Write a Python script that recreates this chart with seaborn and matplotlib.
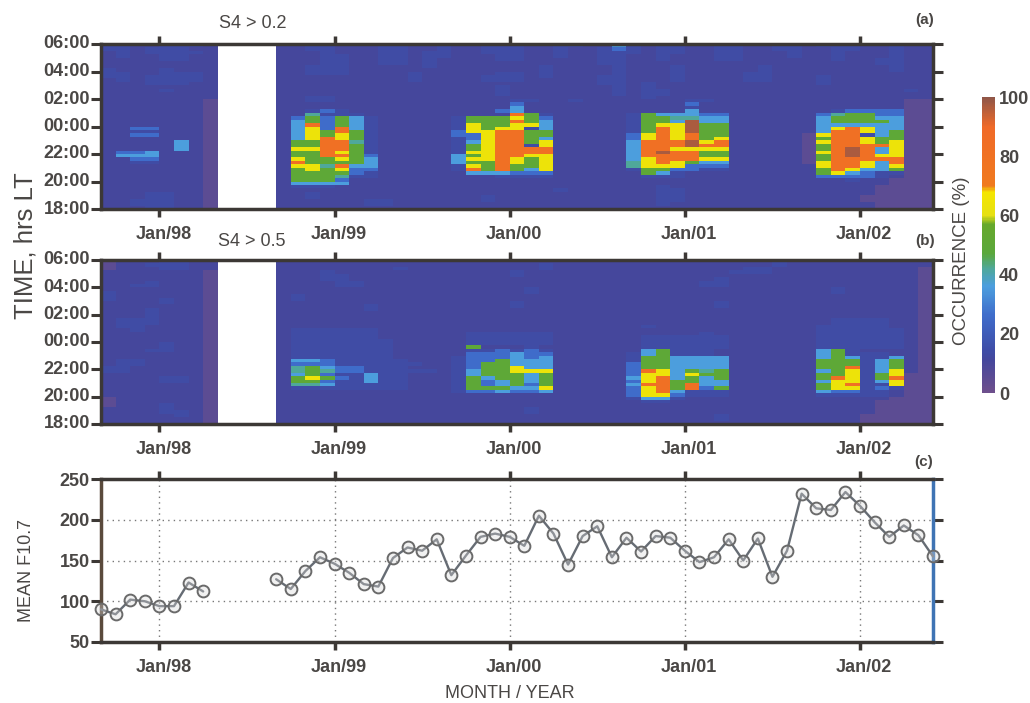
import numpy as np
import pandas as pd
import seaborn as sns
import matplotlib.pyplot as plt
from matplotlib.colors import LinearSegmentedColormap
from matplotlib.transforms import ScaledTranslation

# one char per month, one row per 15 min from 06:00 down to 18:00
# groups: Sep97-Apr98 | data gap | May98-Apr99 | May99-Apr00 | May00-Apr01 | May01-Jan02
s4_02_rows = [
    "22112221 .... 112211122112 112221122114 212211221122 122211211",
    "22122211 .... 112211122112 112221121123 212211221122 112211211",
    "12122221 .... 111211122122 112221121122 212211221112 112111211",
    "12112211 .... 111221122122 111221121122 112111221112 112111211",
    "11112211 .... 111221122121 111221111122 112111221111 112112211",
    "11111111 .... 111221122121 111111111122 111111111111 111112211",
    "11111111 .... 112221111121 111111211112 111211111211 111111211",
    "21112111 .... 112221111111 111111211112 111211111211 111111211",
    "22112221 .... 112221111211 111221211112 111211112211 111111111",
    "22122221 .... 111111111211 112221211122 111211112211 121111111",
    "12122221 .... 111111111211 112221111122 111211112211 121111111",
    "11122211 .... 111111111111 111111111122 121111111111 121111111",
    "11111111 .... 111111111111 111211111112 121111111111 111111111",
    "11112111 .... 111111111111 111211111112 122111111111 111111121",
    "11111111 .... 111111111111 111211111112 122111111111 111111111",
    "11111111 .... 112211111111 111111111111 121111111111 111111111",
    "11111110 .... 112211111111 111122112111 111122111111 111111100",
    "11111110 .... 111111111111 111131111111 111131111111 111111100",
    "11111110 .... 111111111111 111141111111 111121111111 111111100",
    "11111110 .... 112321111111 111341111111 111141111111 112333300",
    "11111110 .... 115222111111 111186211111 264443311111 135663300",
    "11111110 .... 136364211111 266676311111 266554411111 146664400",
    "11111110 .... 146364211111 266686411111 266494411111 146666400",
    "11111110 .... 148364211111 276677411111 267796611111 144444400",
    "11331110 .... 147384211111 276772411111 268796611111 147874400",
    "11221110 .... 147686211111 377886611111 268796611111 148874600",
    "11331110 .... 147676211111 337886611111 378786611111 078824600",
    "11111110 .... 147876211111 237886411111 378786711111 068876600",
    "11111410 .... 166885211111 247886711111 488897811111 078876700",
    "11111410 .... 166886211111 267882711111 488898811111 068888700",
    "11111410 .... 177886211111 267888811111 488777711111 068984700",
    "13341110 .... 166876211111 277888811111 489886611111 078984700",
    "14441110 .... 166886311111 467887711111 488886611111 068987700",
    "11331110 .... 176676411111 477876711111 478887711111 068888800",
    "11221110 .... 186666411111 466876711111 578764411111 078874800",
    "11111110 .... 177584411111 276866711111 577733311111 178874700",
    "11111110 .... 167673311111 286864711111 266332211111 168744600",
    "11111110 .... 166663211111 144433311111 164211111111 167432200",
    "11111110 .... 166652211111 111222211111 122211111111 133332100",
    "11111110 .... 166631111111 111111111111 111111111111 111211000",
    "11111110 .... 144441111111 111111111111 111111111111 111111000",
    "11111110 .... 122211111111 111111111111 112111111111 111110000",
    "11111110 .... 111111111111 111111121111 112211111111 111110000",
    "11122110 .... 112111111111 111111111111 112211111111 111110000",
    "11122110 .... 112111111111 112111111111 112211111111 111100000",
    "11222110 .... 111111221111 112111111111 112211111111 111100000",
    "11222110 .... 111111221111 111111111111 112111111111 111110000",
    "11122110 .... 111111111111 111111111111 111111111111 111110000",
]
s4_05_rows = [
    "01112211 .... 111111111111 111111111111 111111111121 111111111",
    "01122211 .... 111111111111 111111211111 111111111121 111111111",
    "01112211 .... 111111112111 111111211111 111111112211 111111110",
    "11111110 .... 111211111111 111121111111 111111122211 111111110",
    "11111110 .... 111221111111 111121111111 111111111111 111111110",
    "11111110 .... 111221111111 111111111111 111111211111 111111110",
    "11121110 .... 111122111111 111111111111 111112211111 111111110",
    "11221110 .... 111122111111 111111111111 111112211111 111111110",
    "11111110 .... 111111111111 111112111111 111111111111 112111110",
    "21111110 .... 111111111111 111112111111 111111111111 112111110",
    "21111110 .... 121111111111 111111111111 111111111111 111111110",
    "21112110 .... 121111111111 111111111111 111111111111 111111110",
    "11112110 .... 111111111111 111121111111 111111211111 111111110",
    "11111110 .... 111111211111 111121111111 111111211111 111111110",
    "11121110 .... 111111211111 111111111111 111111111111 111111110",
    "11121110 .... 111111111111 111111111111 111111111111 111111110",
    "11121110 .... 111111111111 111111111111 111111111111 111111110",
    "12221110 .... 111111111111 111111111111 111111111111 112222110",
    "12221110 .... 111111111111 111111111111 111111111111 112222110",
    "12211110 .... 111111111111 111111111111 121111111111 122222110",
    "11211110 .... 122222211111 111111111111 111111111111 122222210",
    "11111110 .... 122222211111 122222211111 111112111111 122222210",
    "11111110 .... 122222211111 122222211111 122222211111 122222210",
    "11111110 .... 122222221111 122222211111 122222211111 122222210",
    "11112110 .... 122222221111 122222211111 122222211111 122222210",
    "11112110 .... 122222221111 161112111111 122222211111 122222210",
    "11122110 .... 122222221111 122323211111 146222111111 146211110",
    "11111110 .... 122222221111 133343311111 246222111111 146222110",
    "11111110 .... 122222221111 233343411111 266444411111 146422410",
    "12211110 .... 144322222111 233644411111 266444411111 166624610",
    "12211110 .... 133322222211 236644411111 366444411111 166624610",
    "22111110 .... 156433222111 236674411111 366444411111 166824610",
    "22111110 .... 156533222221 246677711111 387465611111 146724710",
    "11111110 .... 146322422111 246664611111 377476611111 166726700",
    "11112210 .... 167632422111 264664611111 478464611111 168726800",
    "11112210 .... 166322422111 263464611111 378664411111 147724700",
    "11111110 .... 155422222111 263463611111 488684411111 167822700",
    "11111110 .... 122222222111 266644711111 378683611111 167723200",
    "11111110 .... 111111111111 233433411111 378422211111 143322100",
    "11111110 .... 111111111111 111111111111 377322211111 122222100",
    "01111110 .... 111111111111 111111111111 244211111111 111111000",
    "01111110 .... 111111111111 111111111111 122111111111 111110000",
    "01112110 .... 111111111111 111111111111 111111111111 111110000",
    "11112110 .... 111111111111 111112111111 111111111111 111110000",
    "11112210 .... 111111111111 111112111111 111111111111 111110000",
    "11111210 .... 111111111111 111111111111 111111211111 111100000",
    "11111110 .... 111111111111 111111111111 111111211111 111100000",
    "11111110 .... 111111111111 111111111111 111111111111 111100000",
]
# occurrence (%) for each char above
occ_values = {'.': np.nan, '0': 5, '1': 11, '2': 14, '3': 26, '4': 36,
              '5': 42, '6': 50, '7': 64, '8': 82, '9': 97}

hour_labels = ['06:00', '04:00', '02:00', '00:00', '22:00', '20:00', '18:00']
year_labels = ['Jan/98', 'Jan/99', 'Jan/00', 'Jan/01', 'Jan/02']
year_ticks = [4, 16, 28, 40, 52]

# mean F10.7, monthly from Sep 97 to Jun 02 (nothing for the data gap)
f107_early = [90, 84, 102, 100, 94, 94, 123, 112]
f107_late = [127, 115, 137, 154, 146, 135, 121, 118, 153, 166, 162, 176, 132, 156, 179, 183,
             179, 168, 205, 183, 145, 180, 192, 154, 178, 161, 180, 178, 162, 148, 154, 176,
             150, 177, 130, 162, 232, 214, 212, 234, 217, 197, 179, 193, 181, 155]

DARK = '#3c3835'
TXT = '#4a4745'

def to_frame(rows):
    cells = [[occ_values[c] for c in r.replace(' ', '')] for r in rows]
    return pd.DataFrame(cells)

occ_cmap = LinearSegmentedColormap.from_list('occ', [
    (0.00, '#6e4f8c'), (0.11, '#45479c'), (0.14, '#3f4ca6'), (0.26, '#3f6cca'),
    (0.36, '#4c9ede'), (0.42, '#4fa89a'), (0.47, '#5aa83c'), (0.57, '#66a82c'),
    (0.60, '#e6e012'), (0.68, '#f5e600'), (0.70, '#f07a1e'), (0.90, '#f06a28'),
    (1.00, '#8f5648')])

sns.set_theme(style='ticks')
plt.rcParams['font.family'] = ['Liberation Sans', 'DejaVu Sans']

W, H = 1030, 703
fig = plt.figure(figsize=(W / 100, H / 100), dpi=100)

def panel(top, bottom):
    return fig.add_axes([101 / W, 1 - bottom / H, (933 - 101) / W, (bottom - top) / H])

ax_a = panel(44, 209)
ax_b = panel(260, 424)
ax_c = panel(479, 642)
cax = fig.add_axes([982 / W, 1 - 393 / H, 13 / W, (393 - 97) / H])

sns.heatmap(to_frame(s4_02_rows), ax=ax_a, cmap=occ_cmap, vmin=0, vmax=100, cbar_ax=cax)
sns.heatmap(to_frame(s4_05_rows), ax=ax_b, cmap=occ_cmap, vmin=0, vmax=100, cbar=False)

for ax in (ax_a, ax_b):
    ax.set_yticks(range(0, 49, 8))
    ax.set_yticklabels(hour_labels, rotation=0)
    ax.set_ylim(48, 0)

# bottom panel
early = pd.DataFrame({'month': range(0, 8), 'f107': f107_early})
late = pd.DataFrame({'month': range(12, 58), 'f107': f107_late})
for part in (early, late):
    sns.lineplot(data=part, x='month', y='f107', ax=ax_c, color='#666c74', linewidth=1.7,
                 marker='o', markersize=8.5, markerfacecolor=(0.85, 0.85, 0.85, 0.35),
                 markeredgecolor='#6a6a6a', markeredgewidth=1.4, clip_on=False, zorder=5)
ax_c.set_xlim(0, 57)
ax_c.set_ylim(50, 250)
ax_c.set_yticks([50, 100, 150, 200, 250])
ax_c.grid(True, linestyle=(0, (1, 3)), color='#777777', linewidth=1)

# year labels sit a little right of their ticks in the original
nudge = ScaledTranslation(4 / 100, 0, fig.dpi_scale_trans)
for ax in (ax_a, ax_b, ax_c):
    ax.set_xticks(year_ticks)
    ax.set_xticklabels(year_labels, rotation=0)
    ax.set_xlabel('')
    ax.set_ylabel('')
    ax.tick_params(axis='x', top=True, bottom=True, direction='out', length=6, width=2.5,
                   color=DARK, labelsize=13, labelcolor=TXT, pad=6)
    ax.tick_params(axis='y', left=True, right=True, direction='out', length=7, width=2.2,
                   color=DARK, labelsize=13, labelcolor=TXT, pad=1)
    for side in ax.spines:
        ax.spines[side].set_visible(True)
        ax.spines[side].set_color(DARK)
        ax.spines[side].set_linewidth(2.5)
    for lab in ax.get_xticklabels():
        lab.set_fontweight('bold')
        lab.set_transform(lab.get_transform() + nudge)
    for lab in ax.get_yticklabels():
        lab.set_fontweight('bold')
ax_c.spines['right'].set_color('#3f74b4')
ax_c.spines['left'].set_color('#5a4a3c')

# colorbar
cbar = ax_a.collections[0].colorbar
cbar.set_ticks([0, 20, 40, 60, 80, 100])
cbar.outline.set_visible(False)
cax.tick_params(length=0, labelsize=13, labelcolor=TXT, pad=3)
for lab in cax.get_yticklabels():
    lab.set_fontweight('bold')

def put(x, y, s, **kw):
    fig.text(x / W, 1 - y / H, s, ha='center', va='center', color=TXT, **kw)

put(253, 23, 'S4 > 0.2', fontsize=13)
put(252, 242, 'S4 > 0.5', fontsize=13)
put(925, 20, '(a)', fontsize=11, fontweight='bold')
put(925, 241, '(b)', fontsize=11, fontweight='bold')
put(924, 462, '(c)', fontsize=11, fontweight='bold')
put(26, 246, 'TIME, hrs LT', fontsize=18.5, rotation=90)
put(27, 570, 'MEAN F10.7', fontsize=13, rotation=90)
put(962, 261, 'OCCURRENCE (%)', fontsize=13.5, rotation=90)
put(510, 694, 'MONTH / YEAR', fontsize=13)

fig.savefig('out.png', dpi=100)
